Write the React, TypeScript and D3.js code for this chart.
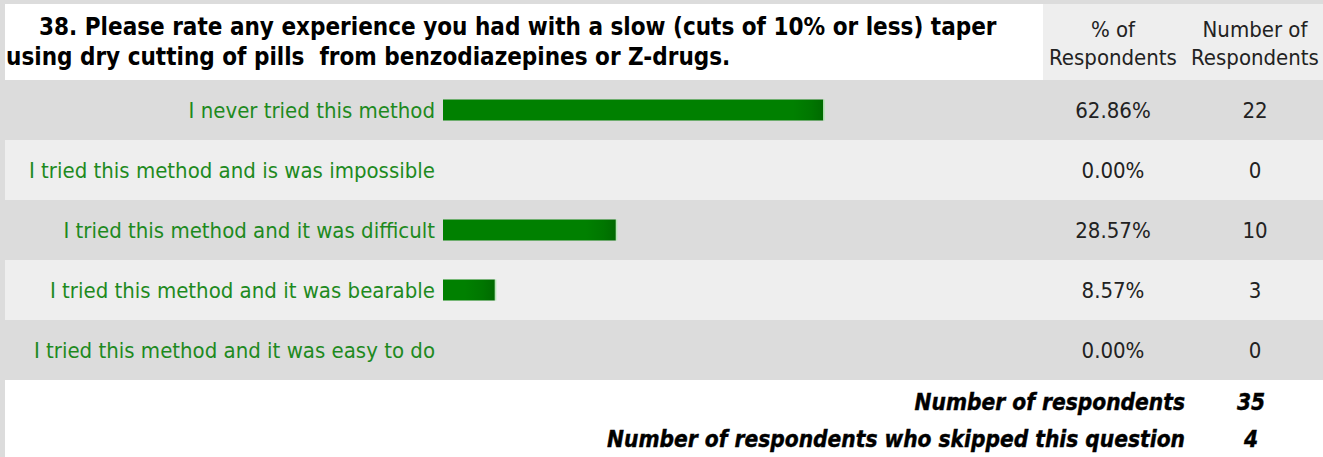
import React from "react";
import * as d3 from "d3";

const titleLines = [
  "38. Please rate any experience you had with a slow (cuts of 10% or less) taper",
  "using dry cutting of pills  from benzodiazepines or Z-drugs.",
];
const headerPct = ["% of", "Respondents"];
const headerNum = ["Number of", "Respondents"];
const categories = [
  "I never tried this method",
  "I tried this method and is was impossible",
  "I tried this method and it was difficult",
  "I tried this method and it was bearable",
  "I tried this method and it was easy to do",
];
const percents = [62.86, 0.0, 28.57, 8.57, 0.0];
const counts = [22, 0, 10, 3, 0];
const footerLabels = ["Number of respondents", "Number of respondents who skipped this question"];
const footerValues = [35, 4];

const W = 1323;
const H = 457;
const FONT = "'DejaVu Sans Condensed', 'DejaVu Sans', Tahoma, sans-serif";

export default function App() {
  const y = d3.scaleBand<string>().domain(categories).range([80, 380]).paddingInner(0).paddingOuter(0);
  const x = d3.scaleLinear().domain([0, 100]).range([443, 443 + 605]);
  const barH = 21;
  const rowBg = (i: number) => (i % 2 === 0 ? "#dcdcdc" : "#eeeeee");
  const pctX = 1113;
  const numX = 1255;
  const footY = d3.scalePoint<string>().domain(footerLabels).range([410, 447]);

  return (
    <svg
      width={W}
      height={H}
      style={{ position: "absolute", left: 0, top: 0, display: "block" }}
      fontFamily={FONT}
    >
      <defs>
        {categories.map((c, i) => {
          const w = x(percents[i]) - x(0);
          const x2 = x(0) + w;
          const x1 = x2 - Math.min(30, w);
          return (
            <linearGradient key={"g" + i} id={"barg" + i} gradientUnits="userSpaceOnUse" x1={x1} x2={x2} y1={0} y2={0}>
              <stop offset="0" stopColor="#008000" />
              <stop offset="0.6" stopColor="#007600" />
              <stop offset="1" stopColor="#006a00" />
            </linearGradient>
          );
        })}
      </defs>
      <rect x={0} y={0} width={W} height={H} fill="#dcdcdc" />
      {/* title box */}
      <rect x={5} y={4} width={1038} height={76} fill="#ffffff" />
      <rect x={1043} y={4} width={W - 1043} height={76} fill="#eeeeee" />
      <text x={39} y={35} fontSize={24} fontWeight="bold" fill="#000" style={{ whiteSpace: "pre" }}>
        {titleLines[0]}
      </text>
      <text x={6} y={65} fontSize={24} fontWeight="bold" fill="#000" style={{ whiteSpace: "pre" }}>
        {titleLines[1]}
      </text>
      {headerPct.map((t, i) => (
        <text key={"hp" + i} x={pctX} y={37 + i * 28} fontSize={22} textAnchor="middle" fill="#222">
          {t}
        </text>
      ))}
      {headerNum.map((t, i) => (
        <text key={"hn" + i} x={numX} y={37 + i * 28} fontSize={22} textAnchor="middle" fill="#222">
          {t}
        </text>
      ))}
      {/* rows */}
      {categories.map((c, i) => {
        const y0 = y(c)!;
        const bw = y.bandwidth();
        const cy = y0 + bw / 2;
        const w = x(percents[i]) - x(0);
        return (
          <g key={c}>
            <rect x={i % 2 === 0 ? 0 : 5} y={y0} width={W} height={bw} fill={rowBg(i)} />
            <text x={435} y={cy} dy="0.36em" fontSize={22} textAnchor="end" fill="#1e8a1e">
              {c}
            </text>
            {w > 0 && (
              <g>
                <rect x={x(0)} y={cy - barH / 2} width={w} height={barH} fill={`url(#barg${i})`} />
                <rect x={x(0) + w} y={cy - barH / 2} width={1.5} height={barH} fill="#b8e6b8" />
              </g>
            )}
            <text x={pctX} y={cy} dy="0.36em" fontSize={22} textAnchor="middle" fill="#222">
              {percents[i].toFixed(2) + "%"}
            </text>
            <text x={numX} y={cy} dy="0.36em" fontSize={22} textAnchor="middle" fill="#222">
              {counts[i]}
            </text>
          </g>
        );
      })}
      {/* footer */}
      <rect x={5} y={380} width={W - 5} height={H - 380} fill="#ffffff" />
      {footerLabels.map((t, i) => (
        <g key={t}>
          <text
            x={1185}
            y={footY(t)}
            fontSize={22.5}
            fontWeight="bold"
            fontStyle="italic"
            textAnchor="end"
            fill="#000"
            stroke="#000"
            strokeWidth={0.4}
          >
            {t}
          </text>
          <text
            x={1251}
            y={footY(t)}
            fontSize={22.5}
            fontWeight="bold"
            fontStyle="italic"
            textAnchor="middle"
            fill="#000"
            stroke="#000"
            strokeWidth={0.4}
          >
            {footerValues[i]}
          </text>
        </g>
      ))}
    </svg>
  );
}
